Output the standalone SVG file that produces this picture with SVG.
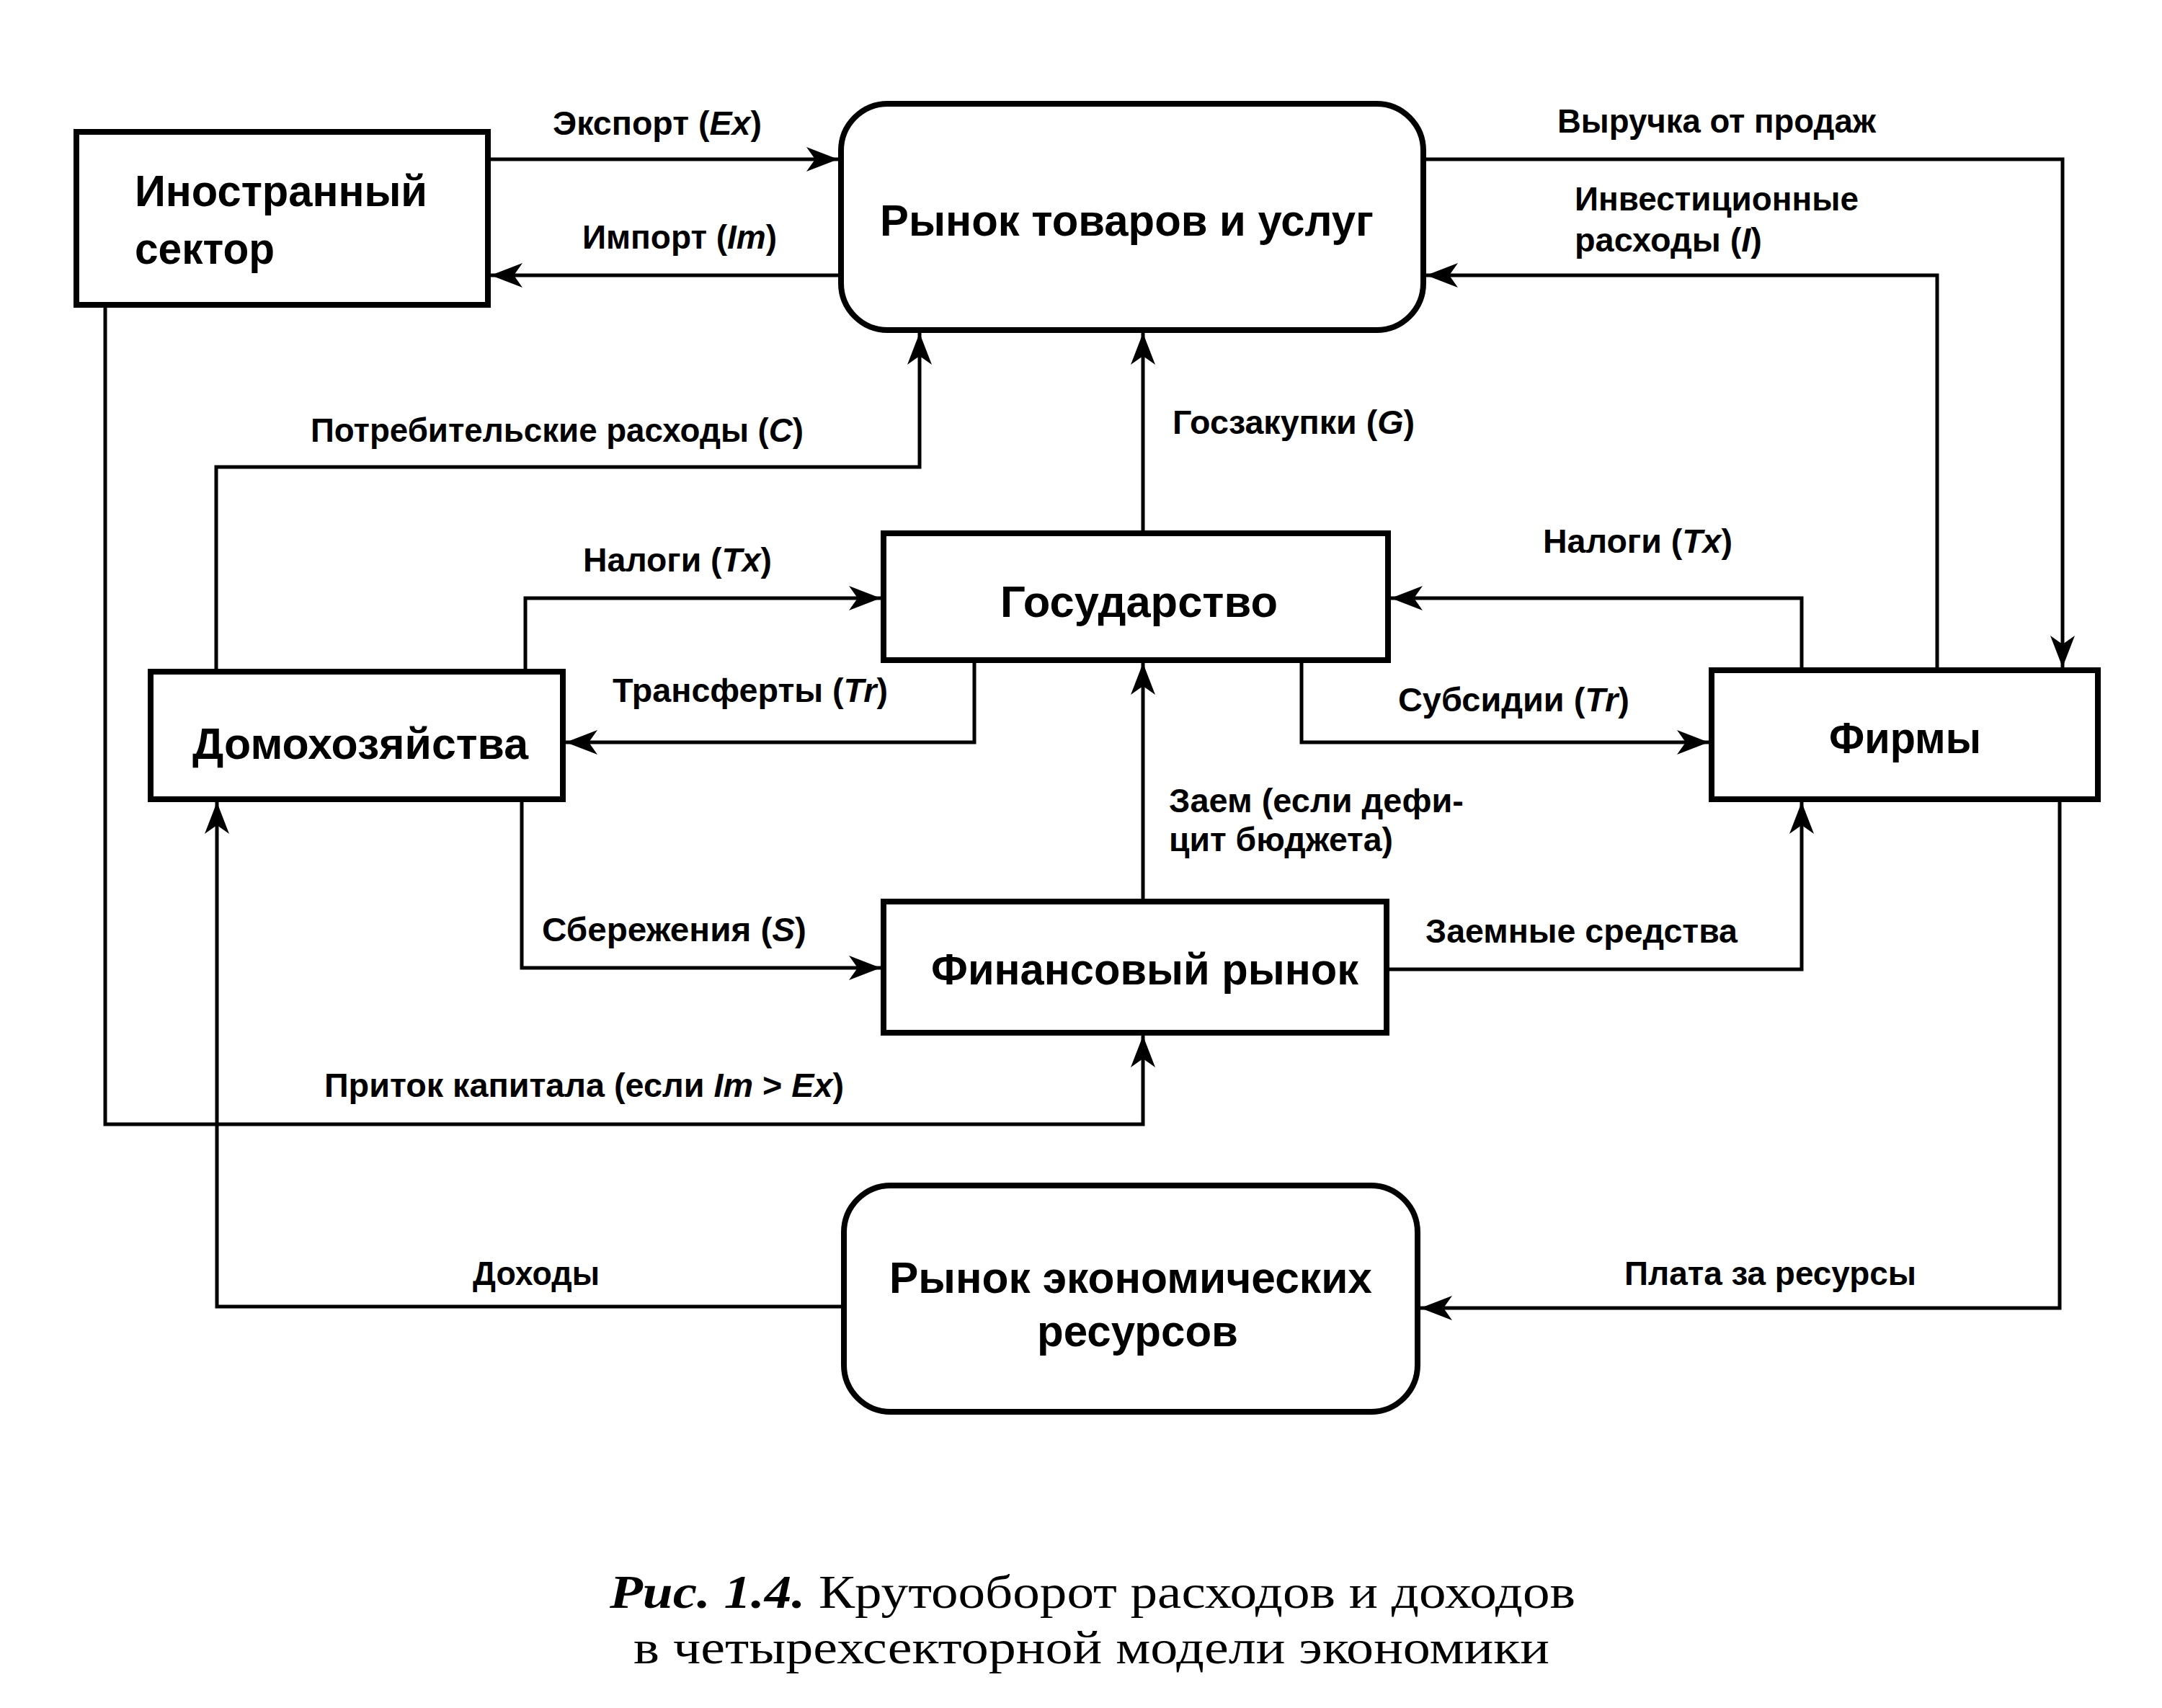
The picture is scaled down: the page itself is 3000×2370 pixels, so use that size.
<svg xmlns="http://www.w3.org/2000/svg" width="3000" height="2370" viewBox="0 0 3000 2370">
<style>
.box{fill:#fff;stroke:#000;stroke-width:8}
.con{fill:none;stroke:#000;stroke-width:5;marker-end:url(#ah)}
.nt{font-family:"Liberation Sans",Arial,sans-serif;font-weight:bold;font-size:62px;fill:#000}
.lb{font-family:"Liberation Sans",Arial,sans-serif;font-weight:bold;font-size:46px;fill:#000}
.it{font-style:italic}
.cap{font-family:"Liberation Serif","Times New Roman",serif;font-size:66px;fill:#000}
</style>
<defs>
<marker id="ah" markerUnits="userSpaceOnUse" markerWidth="46" markerHeight="34" refX="44" refY="17" orient="auto">
<path d="M0,0 L44,17 L0,34 L12,17 Z" fill="#000"/>
</marker>
</defs>
<rect width="3000" height="2370" fill="#fff"/>
<g id="connectors">
<path class="con" d="M677,221 H1163"/>
<path class="con" d="M1167,382 H681"/>
<path class="con" d="M1975,221 H2862 V926"/>
<path class="con" d="M2688,930 V382 H1979"/>
<path class="con" d="M300,932 V648 H1276 V462"/>
<path class="con" d="M1586,740 V462"/>
<path class="con" d="M729,932 V830 H1222"/>
<path class="con" d="M1352,916 V1030 H785"/>
<path class="con" d="M2500,930 V830 H1930"/>
<path class="con" d="M1806,916 V1030 H2371"/>
<path class="con" d="M1586,1251 V920"/>
<path class="con" d="M724,1109 V1343 H1222"/>
<path class="con" d="M1924,1345 H2500 V1113"/>
<path class="con" d="M146,423 V1560 H1586 V1437"/>
<path class="con" d="M1171,1813 H301 V1113"/>
<path class="con" d="M2858,1109 V1815 H1971"/>
</g>
<g id="labels">
<text class="lb" x="767" y="187" textLength="290" lengthAdjust="spacingAndGlyphs">Экспорт (<tspan class="it">Ex</tspan>)</text>
<text class="lb" x="808" y="345" textLength="270" lengthAdjust="spacingAndGlyphs">Импорт (<tspan class="it">Im</tspan>)</text>
<text class="lb" x="2161" y="184" textLength="442" lengthAdjust="spacingAndGlyphs">Выручка от продаж</text>
<text class="lb" x="2185" y="292" textLength="394" lengthAdjust="spacingAndGlyphs">Инвестиционные</text>
<text class="lb" x="2185" y="349" textLength="260" lengthAdjust="spacingAndGlyphs">расходы (<tspan class="it">I</tspan>)</text>
<text class="lb" x="431" y="613" textLength="684" lengthAdjust="spacingAndGlyphs">Потребительские расходы (<tspan class="it">C</tspan>)</text>
<text class="lb" x="1627" y="602" textLength="336" lengthAdjust="spacingAndGlyphs">Госзакупки (<tspan class="it">G</tspan>)</text>
<text class="lb" x="809" y="793" textLength="262" lengthAdjust="spacingAndGlyphs">Налоги (<tspan class="it">Tx</tspan>)</text>
<text class="lb" x="850" y="974" textLength="382" lengthAdjust="spacingAndGlyphs">Трансферты (<tspan class="it">Tr</tspan>)</text>
<text class="lb" x="2141" y="767" textLength="263" lengthAdjust="spacingAndGlyphs">Налоги (<tspan class="it">Tx</tspan>)</text>
<text class="lb" x="1940" y="987" textLength="321" lengthAdjust="spacingAndGlyphs">Субсидии (<tspan class="it">Tr</tspan>)</text>
<text class="lb" x="1622" y="1127" textLength="409" lengthAdjust="spacingAndGlyphs">Заем (если дефи-</text>
<text class="lb" x="1622" y="1181" textLength="311" lengthAdjust="spacingAndGlyphs">цит бюджета)</text>
<text class="lb" x="752" y="1306" textLength="367" lengthAdjust="spacingAndGlyphs">Сбережения (<tspan class="it">S</tspan>)</text>
<text class="lb" x="1978" y="1308" textLength="433" lengthAdjust="spacingAndGlyphs">Заемные средства</text>
<text class="lb" x="450" y="1522" textLength="721" lengthAdjust="spacingAndGlyphs">Приток капитала (если <tspan class="it">Im</tspan> &gt; <tspan class="it">Ex</tspan>)</text>
<text class="lb" x="656" y="1783" textLength="176" lengthAdjust="spacingAndGlyphs">Доходы</text>
<text class="lb" x="2254" y="1783" textLength="405" lengthAdjust="spacingAndGlyphs">Плата за ресурсы</text>
</g>
<g id="foreign">
<rect class="box" x="106" y="183" width="571" height="240"/>
<text class="nt" x="187" y="286" textLength="406" lengthAdjust="spacingAndGlyphs">Иностранный</text>
<text class="nt" x="187" y="366" textLength="194" lengthAdjust="spacingAndGlyphs">сектор</text>
</g>
<g id="goods_market">
<rect class="box" x="1167" y="144" width="808" height="314" rx="65" ry="65"/>
<text class="nt" x="1221" y="327" textLength="685" lengthAdjust="spacingAndGlyphs">Рынок товаров и услуг</text>
</g>
<g id="government">
<rect class="box" x="1226" y="740" width="700" height="176"/>
<text class="nt" x="1388" y="856" textLength="385" lengthAdjust="spacingAndGlyphs">Государство</text>
</g>
<g id="households">
<rect class="box" x="209" y="932" width="572" height="177"/>
<text class="nt" x="267" y="1053" textLength="466" lengthAdjust="spacingAndGlyphs">Домохозяйства</text>
</g>
<g id="firms">
<rect class="box" x="2375" y="930" width="536" height="179"/>
<text class="nt" x="2538" y="1045" textLength="211" lengthAdjust="spacingAndGlyphs">Фирмы</text>
</g>
<g id="financial_market">
<rect class="box" x="1226" y="1251" width="698" height="182"/>
<text class="nt" x="1292" y="1366" textLength="593" lengthAdjust="spacingAndGlyphs">Финансовый рынок</text>
</g>
<g id="resource_market">
<rect class="box" x="1171" y="1645" width="796" height="314" rx="65" ry="65"/>
<text class="nt" x="1234" y="1794" textLength="670" lengthAdjust="spacingAndGlyphs">Рынок экономических</text>
<text class="nt" x="1439" y="1868" textLength="279" lengthAdjust="spacingAndGlyphs">ресурсов</text>
</g>
<g id="caption">
<text class="cap" x="846" y="2231" textLength="1340" lengthAdjust="spacingAndGlyphs"><tspan font-weight="bold" font-style="italic">Рис. 1.4.</tspan> Крутооборот расходов и доходов</text>
<text class="cap" x="879" y="2308" textLength="1271" lengthAdjust="spacingAndGlyphs">в четырехсекторной модели экономики</text>
</g>
</svg>
